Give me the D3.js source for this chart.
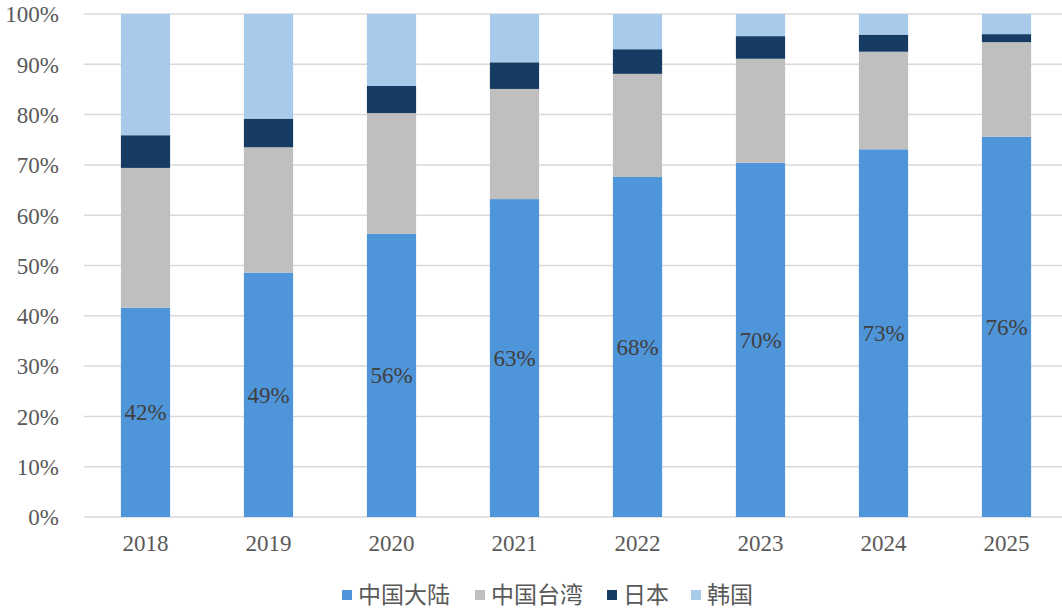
<!DOCTYPE html>
<html lang="zh">
<head>
    <meta charset="utf-8">
    <title>Stacked share chart</title>
    <script src="https://d3js.org/d3.v7.min.js"></script>
    <style>
        body { margin: 0; background: #fff; }
        svg text { font-family: "Liberation Serif", "Times New Roman", serif; }
        .legend text { font-family: "Noto Sans CJK SC", sans-serif; }
    </style>
</head>
<body>
<div id="chart"></div>
<script>
    var years = ["2018", "2019", "2020", "2021", "2022", "2023", "2024", "2025"];
    var seriesNames = ["中国大陆", "中国台湾", "日本", "韩国"];
    var mainland = [41.6, 48.6, 56.3, 63.2, 67.6, 70.4, 73.1, 75.6];
    var taiwan   = [27.8, 24.9, 24.0, 21.9, 20.5, 20.7, 19.4, 18.8];
    var japan    = [6.5, 5.7, 5.4, 5.3, 4.9, 4.5, 3.4, 1.6];
    var korea    = [24.1, 20.8, 14.3, 9.6, 7.0, 4.4, 4.1, 4.0];
    var mainlandLabels = ["42%", "49%", "56%", "63%", "68%", "70%", "73%", "76%"];
    var yTicks = [0, 10, 20, 30, 40, 50, 60, 70, 80, 90, 100];
    var colors = ["#4f95d9", "#bfbfbf", "#173c64", "#a8caeb"];

    var W = 1062, H = 610;
    var margin = { top: 14, right: -6, bottom: 93, left: 84 };

    var rows = years.map(function(y, i) {
        return { year: y, "中国大陆": mainland[i], "中国台湾": taiwan[i], "日本": japan[i], "韩国": korea[i], label: mainlandLabels[i] };
    });

    var svg = d3.select("#chart").append("svg")
        .attr("width", W)
        .attr("height", H);

    var x = d3.scaleBand().domain(years)
        .range([margin.left, W - margin.right])
        .paddingInner(0.6).paddingOuter(0.3);
    var y = d3.scaleLinear().domain([0, 100]).range([H - margin.bottom, margin.top]);

    // gridlines
    svg.append("g").selectAll("line")
        .data(yTicks)
        .enter().append("line")
        .attr("x1", margin.left).attr("x2", W)
        .attr("y1", function(d) { return y(d); })
        .attr("y2", function(d) { return y(d); })
        .attr("stroke", "#d9d9d9")
        .attr("stroke-width", 1.5);

    var yAxis = svg.append("g")
        .attr("transform", "translate(" + (margin.left - 22) + ",0)")
        .call(d3.axisLeft(y).tickValues(yTicks).tickSize(0).tickFormat(function(d) { return d + "%"; }));
    yAxis.select(".domain").remove();
    yAxis.selectAll("text").attr("fill", "#595959").style("font-size", "23px").attr("dy", "0.34em");

    var xAxis = svg.append("g")
        .attr("transform", "translate(0," + (H - margin.bottom) + ")")
        .call(d3.axisBottom(x).tickSize(0).tickPadding(18));
    xAxis.select(".domain").remove();
    xAxis.selectAll("text").attr("fill", "#595959").style("font-size", "23px");

    var stack = d3.stack().keys(seriesNames);
    var layers = stack(rows);

    svg.append("g").selectAll("g")
        .data(layers)
        .enter().append("g")
        .attr("fill", function(d, i) { return colors[i]; })
        .selectAll("rect")
        .data(function(d) { return d; })
        .enter().append("rect")
        .attr("x", function(d) { return x(d.data.year); })
        .attr("width", x.bandwidth())
        .attr("y", function(d) { return y(d[1]); })
        .attr("height", function(d) { return y(d[0]) - y(d[1]); });

    svg.append("g").selectAll("text")
        .data(layers[0])
        .enter().append("text")
        .attr("x", function(d) { return x(d.data.year) + x.bandwidth() / 2; })
        .attr("y", function(d) { return (y(d[0]) + y(d[1])) / 2; })
        .attr("dy", "0.35em")
        .attr("text-anchor", "middle")
        .attr("fill", "#404040")
        .style("font-size", "23px")
        .text(function(d) { return d.data.label; });

    // legend
    var legendX = [342, 475, 607, 691];
    var legend = svg.append("g").attr("class", "legend")
        .selectAll("g")
        .data(seriesNames)
        .enter().append("g")
        .attr("transform", function(d, i) { return "translate(" + legendX[i] + ",595)"; });
    legend.append("rect")
        .attr("x", 0).attr("y", -5)
        .attr("width", 10).attr("height", 10)
        .attr("fill", function(d, i) { return colors[i]; });
    legend.append("text")
        .attr("x", 16)
        .attr("dy", "0.36em")
        .attr("fill", "#595959")
        .style("font-size", "23px")
        .text(function(d) { return d; });
</script>
</body>
</html>
